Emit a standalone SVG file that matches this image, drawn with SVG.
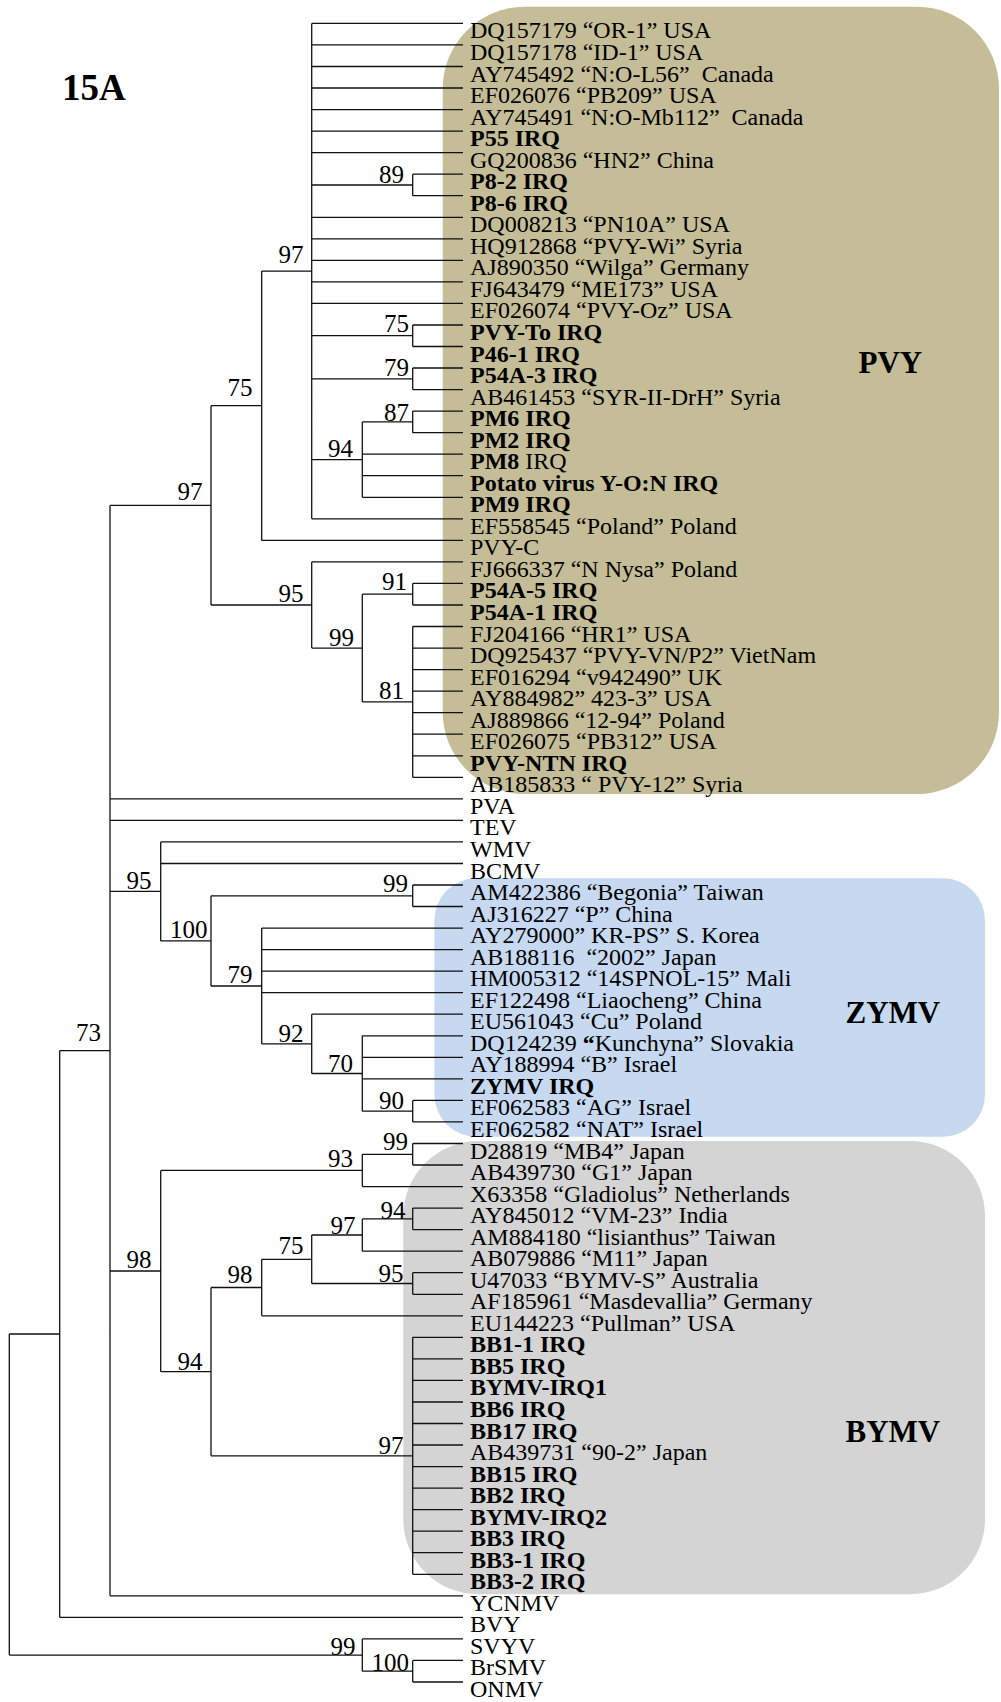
<svg xmlns="http://www.w3.org/2000/svg" width="1001" height="1702" viewBox="0 0 1001 1702">
<style>
.t{font-family:"Liberation Serif","Times New Roman",serif;font-size:24px;fill:#000}
.b{font-weight:bold}
.bs{font-family:"Liberation Serif","Times New Roman",serif;font-size:25px;fill:#000;text-anchor:end}
.cl{font-family:"Liberation Serif","Times New Roman",serif;font-size:31px;font-weight:bold;fill:#000}
.ln{fill:none;stroke:#111;stroke-width:1.3}
</style>
<rect width="1001" height="1702" fill="#fff"/>
<g id="clades">
<g id="clade-PVY"><rect x="442.7" y="6.7" width="556.3" height="787.3" rx="82" ry="82" fill="#c4bd97"/><text class="cl" x="858.5" y="373">PVY</text></g>
<g id="clade-ZYMV"><rect x="434.4" y="878.3" width="550.6" height="258.4" rx="42" ry="42" fill="#c6d9f1"/><text class="cl" x="845.5" y="1023">ZYMV</text></g>
<g id="clade-BYMV"><rect x="403.3" y="1141" width="581.7" height="453.3" rx="75" ry="75" fill="#d4d4d4"/><text class="cl" x="845.5" y="1441.5">BYMV</text></g>
</g>
<text class="cl" x="62" y="100" style="font-size:37px">15A</text>
<g id="connectors">
<path class="ln" d="M311.7 23.4H463M311.7 44.9H463M311.7 66.5H463M311.7 88H463M311.7 109.6H463M311.7 131.1H463M311.7 152.6H463M412.7 174.2H463M412.7 195.7H463M311.7 217.3H463M311.7 238.8H463M311.7 260.3H463M311.7 281.9H463M311.7 303.4H463M412.7 325H463M412.7 346.5H463M412.7 368H463M412.7 389.6H463M412.7 411.1H463M412.7 432.7H463M362.3 454.2H463M362.3 475.7H463M362.3 497.3H463M311.7 518.8H463M261.7 540.4H463M311.7 561.9H463M412.7 583.4H463M412.7 605H463M412.7 626.5H463M412.7 648.1H463M412.7 669.6H463M412.7 691.1H463M412.7 712.7H463M412.7 734.2H463M412.7 755.8H463M412.7 777.3H463M110 798.8H463M110 820.4H463M160.7 841.9H463M160.7 863.5H463M412.7 885H463M412.7 906.5H463M261.7 928.1H463M261.7 949.6H463M261.7 971.2H463M261.7 992.7H463M311.7 1014.2H463M362.3 1035.8H463M362.3 1057.3H463M362.3 1078.9H463M412.7 1100.4H463M412.7 1121.9H463M412.7 1143.5H463M412.7 1165H463M362.3 1186.6H463M412.7 1208.1H463M412.7 1229.6H463M362.3 1251.2H463M412.7 1272.7H463M412.7 1294.3H463M261.7 1315.8H463M412.7 1337.3H463M412.7 1358.9H463M412.7 1380.4H463M412.7 1402H463M412.7 1423.5H463M412.7 1445H463M412.7 1466.6H463M412.7 1488.1H463M412.7 1509.7H463M412.7 1531.2H463M412.7 1552.7H463M412.7 1574.3H463M110 1595.8H463M59.7 1617.4H463M362.3 1638.9H463M412.7 1660.4H463M412.7 1682H463"/>
<path class="ln" d="M412.7 174.2V195.7M311.7 185H412.7M412.7 325V346.5M311.7 335.7H412.7M412.7 368V389.6M311.7 378.8H412.7M412.7 411.1V432.7M362.3 421.9H412.7M362.3 421.9V497.3M311.7 459.6H362.3M311.7 23.4V518.8M261.7 271.1H311.7M261.7 271.1V540.4M211 405.7H261.7"/>
<path class="ln" d="M412.7 583.4V605M362.3 594.2H412.7M412.7 626.5V777.3M362.3 701.9H412.7M362.3 594.2V701.9M311.7 648.1H362.3M311.7 561.9V648.1M211 605H311.7M211 405.7V605M110 505.4H211"/>
<path class="ln" d="M412.7 885V906.5M211 895.8H412.7M412.7 1100.4V1121.9M362.3 1111.2H412.7M362.3 1035.8V1111.2M311.7 1073.5H362.3M311.7 1014.2V1073.5M261.7 1043.9H311.7M261.7 928.1V1043.9M211 986H261.7M211 895.8V986M160.7 940.9H211M160.7 841.9V940.9M110 891.4H160.7"/>
<path class="ln" d="M412.7 1143.5V1165M362.3 1154.3H412.7M362.3 1154.3V1186.6M160.7 1170.4H362.3M412.7 1208.1V1229.6M362.3 1218.9H412.7M362.3 1218.9V1251.2M311.7 1235H362.3M412.7 1272.7V1294.3M311.7 1283.5H412.7M311.7 1235V1283.5M261.7 1259.3H311.7M261.7 1259.3V1315.8M211 1287.5H261.7M412.7 1337.3V1574.3M211 1455.8H412.7M211 1287.5V1455.8M160.7 1371.7H211M160.7 1170.4V1371.7M110 1271H160.7"/>
<path class="ln" d="M110 505.4V1595.8M59.7 1050.6H110M59.7 1050.6V1617.4M9.3 1334H59.7M412.7 1660.4V1682M362.3 1671.2H412.7M362.3 1638.9V1671.2M9.3 1655.1H362.3M9.3 1334V1655.1"/>
</g>
<g id="bootstrap">
<text class="bs" x="404" y="182.5">89</text>
<text class="bs" x="303.5" y="263">97</text>
<text class="bs" x="409" y="331.5">75</text>
<text class="bs" x="409" y="376">79</text>
<text class="bs" x="409" y="420.5">87</text>
<text class="bs" x="353" y="457.3">94</text>
<text class="bs" x="252.5" y="396">75</text>
<text class="bs" x="202.5" y="500">97</text>
<text class="bs" x="303.5" y="602.3">95</text>
<text class="bs" x="407" y="590">91</text>
<text class="bs" x="354" y="645.7">99</text>
<text class="bs" x="404" y="699">81</text>
<text class="bs" x="151.5" y="889">95</text>
<text class="bs" x="408" y="892.3">99</text>
<text class="bs" x="207.5" y="938.3">100</text>
<text class="bs" x="252.5" y="983.3">79</text>
<text class="bs" x="101" y="1041">73</text>
<text class="bs" x="303.5" y="1041.7">92</text>
<text class="bs" x="353" y="1071.7">70</text>
<text class="bs" x="404" y="1109">90</text>
<text class="bs" x="408" y="1150">99</text>
<text class="bs" x="353" y="1166.7">93</text>
<text class="bs" x="405.5" y="1219">94</text>
<text class="bs" x="355.5" y="1234">97</text>
<text class="bs" x="303.5" y="1254.3">75</text>
<text class="bs" x="403.5" y="1281.7">95</text>
<text class="bs" x="252.5" y="1282.7">98</text>
<text class="bs" x="151.5" y="1268.3">98</text>
<text class="bs" x="202.5" y="1370">94</text>
<text class="bs" x="403.5" y="1454.3">97</text>
<text class="bs" x="355.5" y="1655">99</text>
<text class="bs" x="409" y="1671">100</text>
</g>
<g id="leaves">
<g id="leaf-DQ157179"><text class="t" x="470" y="38.4">DQ157179 “OR-1” USA</text></g>
<g id="leaf-DQ157178"><text class="t" x="470" y="59.9">DQ157178 “ID-1” USA</text></g>
<g id="leaf-AY745492"><text class="t" x="470" y="81.5">AY745492 “N:O-L56”&#160; Canada</text></g>
<g id="leaf-EF026076"><text class="t" x="470" y="103">EF026076 “PB209” USA</text></g>
<g id="leaf-AY745491"><text class="t" x="470" y="124.6">AY745491 “N:O-Mb112”&#160; Canada</text></g>
<g id="leaf-P55"><text class="t b" x="470" y="146.1">P55 IRQ</text></g>
<g id="leaf-GQ200836"><text class="t" x="470" y="167.6">GQ200836 “HN2” China</text></g>
<g id="leaf-P8-2"><text class="t b" x="470" y="189.2">P8-2 IRQ</text></g>
<g id="leaf-P8-6"><text class="t b" x="470" y="210.7">P8-6 IRQ</text></g>
<g id="leaf-DQ008213"><text class="t" x="470" y="232.3">DQ008213 “PN10A” USA</text></g>
<g id="leaf-HQ912868"><text class="t" x="470" y="253.8">HQ912868 “PVY-Wi” Syria</text></g>
<g id="leaf-AJ890350"><text class="t" x="470" y="275.3">AJ890350 “Wilga” Germany</text></g>
<g id="leaf-FJ643479"><text class="t" x="470" y="296.9">FJ643479 “ME173” USA</text></g>
<g id="leaf-EF026074"><text class="t" x="470" y="318.4">EF026074 “PVY-Oz” USA</text></g>
<g id="leaf-PVY-To"><text class="t b" x="470" y="340">PVY-To IRQ</text></g>
<g id="leaf-P46-1"><text class="t b" x="470" y="361.5">P46-1 IRQ</text></g>
<g id="leaf-P54A-3"><text class="t b" x="470" y="383">P54A-3 IRQ</text></g>
<g id="leaf-AB461453"><text class="t" x="470" y="404.6">AB461453 “SYR-II-DrH” Syria</text></g>
<g id="leaf-PM6"><text class="t b" x="470" y="426.1">PM6 IRQ</text></g>
<g id="leaf-PM2"><text class="t b" x="470" y="447.7">PM2 IRQ</text></g>
<g id="leaf-PM8"><text class="t" x="470" y="469.2"><tspan class="b">PM8</tspan> IRQ</text></g>
<g id="leaf-PVY-ON"><text class="t b" x="470" y="490.7">Potato virus Y-O:N IRQ</text></g>
<g id="leaf-PM9"><text class="t b" x="470" y="512.3">PM9 IRQ</text></g>
<g id="leaf-EF558545"><text class="t" x="470" y="533.8">EF558545 “Poland” Poland</text></g>
<g id="leaf-PVY-C"><text class="t" x="470" y="555.4">PVY-C</text></g>
<g id="leaf-FJ666337"><text class="t" x="470" y="576.9">FJ666337 “N Nysa” Poland</text></g>
<g id="leaf-P54A-5"><text class="t b" x="470" y="598.4">P54A-5 IRQ</text></g>
<g id="leaf-P54A-1"><text class="t b" x="470" y="620">P54A-1 IRQ</text></g>
<g id="leaf-FJ204166"><text class="t" x="470" y="641.5">FJ204166 “HR1” USA</text></g>
<g id="leaf-DQ925437"><text class="t" x="470" y="663.1">DQ925437 “PVY-VN/P2” VietNam</text></g>
<g id="leaf-EF016294"><text class="t" x="470" y="684.6">EF016294 “v942490” UK</text></g>
<g id="leaf-AY884982"><text class="t" x="470" y="706.1">AY884982” 423-3” USA</text></g>
<g id="leaf-AJ889866"><text class="t" x="470" y="727.7">AJ889866 “12-94” Poland</text></g>
<g id="leaf-EF026075"><text class="t" x="470" y="749.2">EF026075 “PB312” USA</text></g>
<g id="leaf-PVY-NTN"><text class="t b" x="470" y="770.8">PVY-NTN IRQ</text></g>
<g id="leaf-AB185833"><text class="t" x="470" y="792.3">AB185833 “ PVY-12” Syria</text></g>
<g id="leaf-PVA"><text class="t" x="470" y="813.8">PVA</text></g>
<g id="leaf-TEV"><text class="t" x="470" y="835.4">TEV</text></g>
<g id="leaf-WMV"><text class="t" x="470" y="856.9">WMV</text></g>
<g id="leaf-BCMV"><text class="t" x="470" y="878.5">BCMV</text></g>
<g id="leaf-AM422386"><text class="t" x="470" y="900">AM422386 “Begonia” Taiwan</text></g>
<g id="leaf-AJ316227"><text class="t" x="470" y="921.5">AJ316227 “P” China</text></g>
<g id="leaf-AY279000"><text class="t" x="470" y="943.1">AY279000” KR-PS” S. Korea</text></g>
<g id="leaf-AB188116"><text class="t" x="470" y="964.6">AB188116&#160; “2002” Japan</text></g>
<g id="leaf-HM005312"><text class="t" x="470" y="986.2">HM005312 “14SPNOL-15” Mali</text></g>
<g id="leaf-EF122498"><text class="t" x="470" y="1007.7">EF122498 “Liaocheng” China</text></g>
<g id="leaf-EU561043"><text class="t" x="470" y="1029.2">EU561043 “Cu” Poland</text></g>
<g id="leaf-DQ124239"><text class="t" x="470" y="1050.8">DQ124239 <tspan class="b">“</tspan>Kunchyna” Slovakia</text></g>
<g id="leaf-AY188994"><text class="t" x="470" y="1072.3">AY188994 “B” Israel</text></g>
<g id="leaf-ZYMV-IRQ"><text class="t b" x="470" y="1093.9">ZYMV IRQ</text></g>
<g id="leaf-EF062583"><text class="t" x="470" y="1115.4">EF062583 “AG” Israel</text></g>
<g id="leaf-EF062582"><text class="t" x="470" y="1136.9">EF062582 “NAT” Israel</text></g>
<g id="leaf-D28819"><text class="t" x="470" y="1158.5">D28819 “MB4” Japan</text></g>
<g id="leaf-AB439730"><text class="t" x="470" y="1180">AB439730 “G1” Japan</text></g>
<g id="leaf-X63358"><text class="t" x="470" y="1201.6">X63358 “Gladiolus” Netherlands</text></g>
<g id="leaf-AY845012"><text class="t" x="470" y="1223.1">AY845012 “VM-23” India</text></g>
<g id="leaf-AM884180"><text class="t" x="470" y="1244.6">AM884180 “lisianthus” Taiwan</text></g>
<g id="leaf-AB079886"><text class="t" x="470" y="1266.2">AB079886 “M11” Japan</text></g>
<g id="leaf-U47033"><text class="t" x="470" y="1287.7">U47033 “BYMV-S” Australia</text></g>
<g id="leaf-AF185961"><text class="t" x="470" y="1309.3">AF185961 “Masdevallia” Germany</text></g>
<g id="leaf-EU144223"><text class="t" x="470" y="1330.8">EU144223 “Pullman” USA</text></g>
<g id="leaf-BB1-1"><text class="t b" x="470" y="1352.3">BB1-1 IRQ</text></g>
<g id="leaf-BB5"><text class="t b" x="470" y="1373.9">BB5 IRQ</text></g>
<g id="leaf-BYMV-IRQ1"><text class="t b" x="470" y="1395.4">BYMV-IRQ1</text></g>
<g id="leaf-BB6"><text class="t b" x="470" y="1417">BB6 IRQ</text></g>
<g id="leaf-BB17"><text class="t b" x="470" y="1438.5">BB17 IRQ</text></g>
<g id="leaf-AB439731"><text class="t" x="470" y="1460">AB439731 “90-2” Japan</text></g>
<g id="leaf-BB15"><text class="t b" x="470" y="1481.6">BB15 IRQ</text></g>
<g id="leaf-BB2"><text class="t b" x="470" y="1503.1">BB2 IRQ</text></g>
<g id="leaf-BYMV-IRQ2"><text class="t b" x="470" y="1524.7">BYMV-IRQ2</text></g>
<g id="leaf-BB3"><text class="t b" x="470" y="1546.2">BB3 IRQ</text></g>
<g id="leaf-BB3-1"><text class="t b" x="470" y="1567.7">BB3-1 IRQ</text></g>
<g id="leaf-BB3-2"><text class="t b" x="470" y="1589.3">BB3-2 IRQ</text></g>
<g id="leaf-YCNMV"><text class="t" x="470" y="1610.8">YCNMV</text></g>
<g id="leaf-BVY"><text class="t" x="470" y="1632.4">BVY</text></g>
<g id="leaf-SVYV"><text class="t" x="470" y="1653.9">SVYV</text></g>
<g id="leaf-BrSMV"><text class="t" x="470" y="1675.4">BrSMV</text></g>
<g id="leaf-ONMV"><text class="t" x="470" y="1697">ONMV</text></g>
</g>
</svg>
